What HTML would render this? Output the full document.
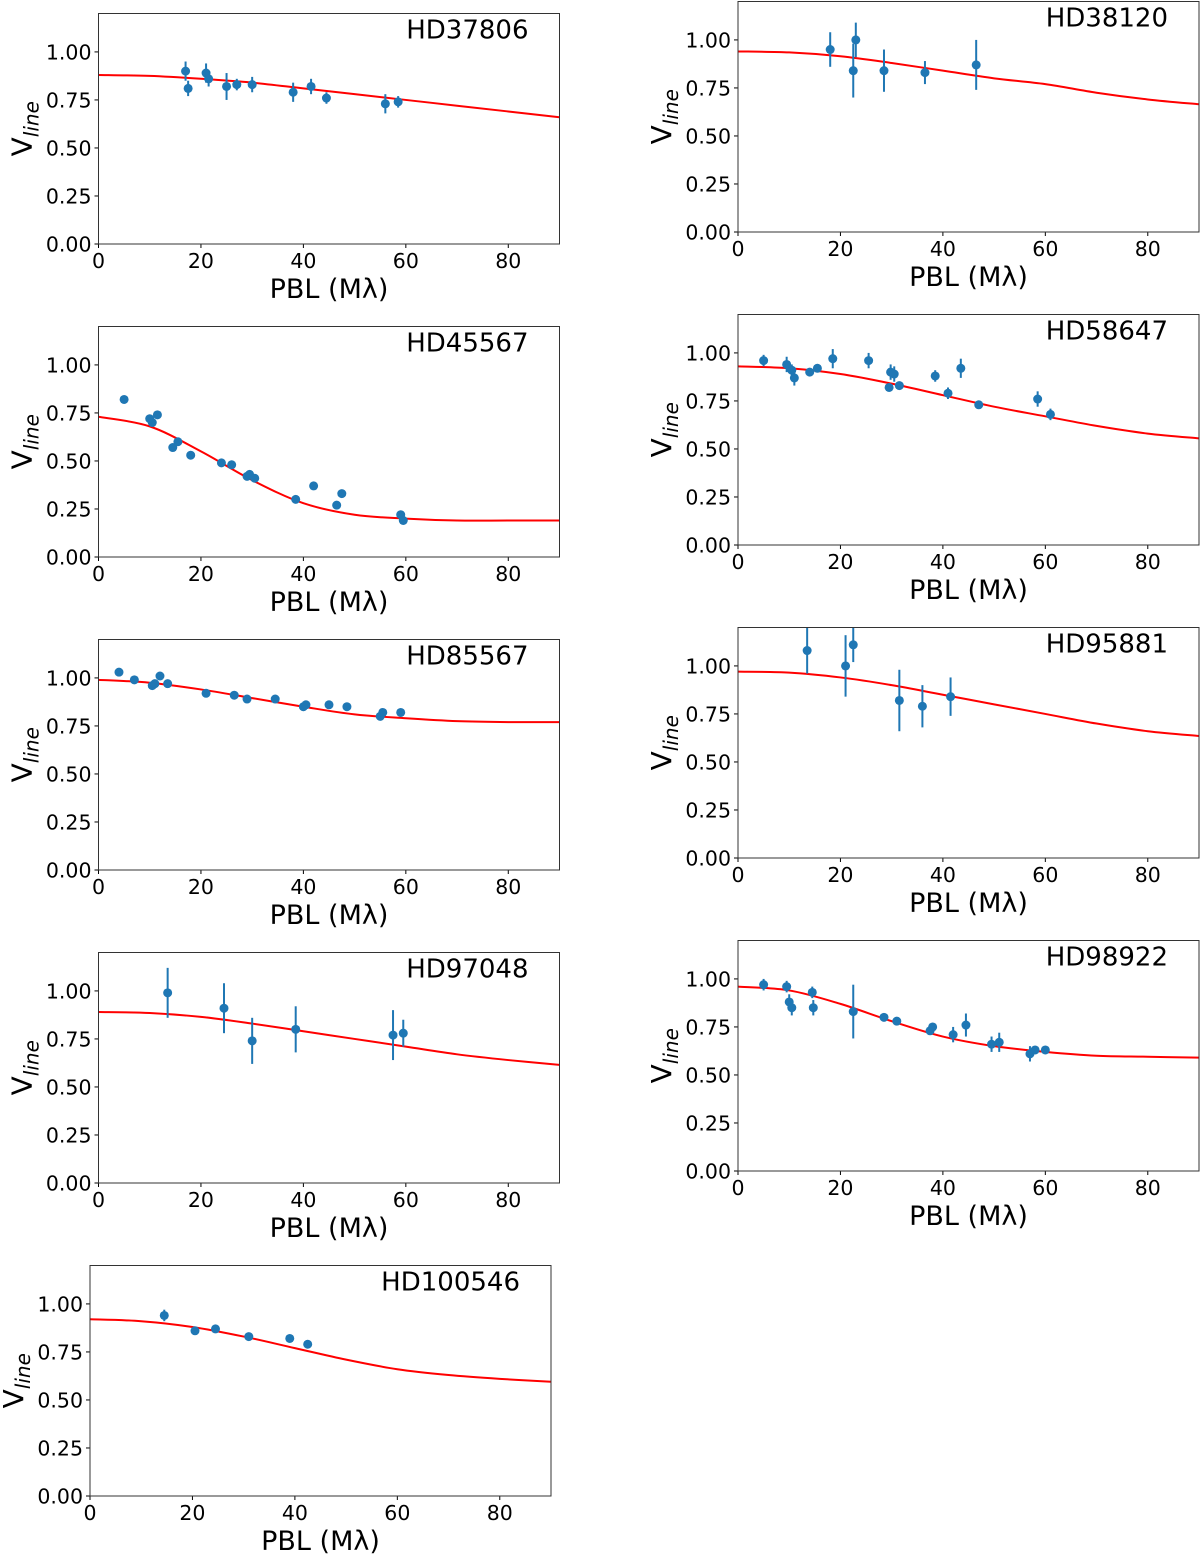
<!DOCTYPE html>
<html><head><meta charset="utf-8"><style>
html,body{margin:0;padding:0;background:#fff;}
svg{display:block;font-family:"DejaVu Sans","Liberation Sans",sans-serif;}
</style></head><body>
<svg id="fig" width="1200" height="1556" viewBox="0 0 1200 1556" xmlns="http://www.w3.org/2000/svg"></svg>
<script>
// Panel data
const names = ["HD37806","HD38120","HD45567","HD58647","HD85567","HD95881","HD97048","HD98922","HD100546"];
const curveX = [0,10,20,30,40,50,60,70,80,90];
const curveHD37806 = [0.88,0.875,0.86,0.84,0.81,0.78,0.75,0.72,0.69,0.66];
const curveHD38120 = [0.94,0.935,0.915,0.88,0.84,0.80,0.77,0.725,0.69,0.665];
const curveHD45567 = [0.73,0.68,0.55,0.40,0.28,0.22,0.20,0.19,0.19,0.19];
const curveHD58647 = [0.93,0.92,0.89,0.84,0.78,0.72,0.67,0.62,0.58,0.555];
const curveHD85567 = [0.99,0.975,0.94,0.895,0.85,0.81,0.79,0.775,0.77,0.77];
const curveHD95881 = [0.97,0.965,0.94,0.90,0.85,0.80,0.75,0.70,0.66,0.635];
const curveHD97048 = [0.89,0.885,0.865,0.83,0.79,0.75,0.71,0.67,0.64,0.615];
const curveHD98922 = [0.96,0.94,0.87,0.78,0.70,0.65,0.62,0.60,0.595,0.59];
const curveHD100546 = [0.92,0.91,0.88,0.83,0.77,0.71,0.66,0.63,0.61,0.595];

const ptsX_HD37806 = [17,17.5,21,21.5,25,27,30,38,41.5,44.5,56,58.5];
const ptsY_HD37806 = [0.90,0.81,0.89,0.86,0.82,0.83,0.83,0.79,0.82,0.76,0.73,0.74];
const ptsE_HD37806 = [0.05,0.04,0.05,0.04,0.07,0.03,0.04,0.05,0.04,0.03,0.05,0.03];
const ptsX_HD38120 = [18,22.5,23,28.5,36.5,46.5];
const ptsY_HD38120 = [0.95,0.84,1.00,0.84,0.83,0.87];
const ptsE_HD38120 = [0.09,0.14,0.09,0.11,0.06,0.13];
const ptsX_HD45567 = [5,10,10.5,11.5,14.5,15.5,18,24,26,29,29.5,30.5,38.5,42,46.5,47.5,59,59.5];
const ptsY_HD45567 = [0.82,0.72,0.70,0.74,0.57,0.60,0.53,0.49,0.48,0.42,0.43,0.41,0.30,0.37,0.27,0.33,0.22,0.19];
const ptsE_HD45567 = [0.01,0.01,0.01,0.01,0.01,0.01,0.01,0.01,0.01,0.01,0.01,0.01,0.01,0.01,0.01,0.01,0.01,0.01];
const ptsX_HD58647 = [5,9.5,10.5,11,14,15.5,18.5,25.5,29.5,29.8,30.5,31.5,38.5,41,43.5,47,58.5,61];
const ptsY_HD58647 = [0.96,0.94,0.91,0.87,0.90,0.92,0.97,0.96,0.82,0.90,0.89,0.83,0.88,0.79,0.92,0.73,0.76,0.68];
const ptsE_HD58647 = [0.03,0.04,0.03,0.04,0.02,0.02,0.05,0.04,0.02,0.04,0.04,0.02,0.03,0.03,0.05,0.02,0.04,0.03];
const ptsX_HD85567 = [4,7,10.5,11,12,13.5,21,26.5,29,34.5,40,40.5,45,48.5,55,55.5,59];
const ptsY_HD85567 = [1.03,0.99,0.96,0.97,1.01,0.97,0.92,0.91,0.89,0.89,0.85,0.86,0.86,0.85,0.80,0.82,0.82];
const ptsE_HD85567 = [0.01,0.01,0.01,0.01,0.01,0.01,0.01,0.01,0.01,0.01,0.01,0.01,0.01,0.01,0.01,0.01,0.01];
const ptsX_HD95881 = [13.5,21,22.5,31.5,36,41.5];
const ptsY_HD95881 = [1.08,1.00,1.11,0.82,0.79,0.84];
const ptsE_HD95881 = [0.12,0.16,0.09,0.16,0.11,0.10];
const ptsX_HD97048 = [13.5,24.5,30,38.5,57.5,59.5];
const ptsY_HD97048 = [0.99,0.91,0.74,0.80,0.77,0.78];
const ptsE_HD97048 = [0.13,0.13,0.12,0.12,0.13,0.07];
const ptsX_HD98922 = [5,9.5,10,10.5,14.5,14.7,22.5,28.5,31,37.5,38,42,44.5,49.5,51,57,58,60];
const ptsY_HD98922 = [0.97,0.96,0.88,0.85,0.93,0.85,0.83,0.80,0.78,0.73,0.75,0.71,0.76,0.66,0.67,0.61,0.63,0.63];
const ptsE_HD98922 = [0.03,0.03,0.04,0.04,0.03,0.04,0.14,0.01,0.01,0.02,0.02,0.04,0.06,0.04,0.05,0.04,0.02,0.01];
const ptsX_HD100546 = [14.5,20.5,24.5,31,39,42.5];
const ptsY_HD100546 = [0.94,0.86,0.87,0.83,0.82,0.79];
const ptsE_HD100546 = [0.03,0.02,0.01,0.02,0.01,0.01];

const xTicks = [0,20,40,60,80];
const yTicks = [0,0.25,0.5,0.75,1.0];
const yTickLabels = ["0.00","0.25","0.50","0.75","1.00"];

const curves = [curveHD37806,curveHD38120,curveHD45567,curveHD58647,curveHD85567,curveHD95881,curveHD97048,curveHD98922,curveHD100546];
const PX = [ptsX_HD37806,ptsX_HD38120,ptsX_HD45567,ptsX_HD58647,ptsX_HD85567,ptsX_HD95881,ptsX_HD97048,ptsX_HD98922,ptsX_HD100546];
const PY = [ptsY_HD37806,ptsY_HD38120,ptsY_HD45567,ptsY_HD58647,ptsY_HD85567,ptsY_HD95881,ptsY_HD97048,ptsY_HD98922,ptsY_HD100546];
const PE = [ptsE_HD37806,ptsE_HD38120,ptsE_HD45567,ptsE_HD58647,ptsE_HD85567,ptsE_HD95881,ptsE_HD97048,ptsE_HD98922,ptsE_HD100546];

const NS = "http://www.w3.org/2000/svg";
const svg = document.getElementById('fig');
function mk(tag, attrs, parent){
  const e = document.createElementNS(NS, tag);
  for (const k in attrs) e.setAttribute(k, attrs[k]);
  parent.appendChild(e);
  return e;
}
const W = 461, H = 230.5, XMAX = 90, YMAX = 1.2;
function geom(i){
  if (i === 8) return {x:90, b:1496};
  const col = i % 2, row = Math.floor(i/2);
  return col === 0 ? {x:98.5, b:244+313*row} : {x:738, b:232+313*row};
}
function smoothPath(pts){
  let d = "M"+pts[0][0]+","+pts[0][1];
  for (let i=0;i<pts.length-1;i++){
    const p0=pts[Math.max(0,i-1)], p1=pts[i], p2=pts[i+1], p3=pts[Math.min(pts.length-1,i+2)];
    const c1x=p1[0]+(p2[0]-p0[0])/6, c1y=p1[1]+(p2[1]-p0[1])/6;
    const c2x=p2[0]-(p3[0]-p1[0])/6, c2y=p2[1]-(p3[1]-p1[1])/6;
    d += " C"+c1x+","+c1y+" "+c2x+","+c2y+" "+p2[0]+","+p2[1];
  }
  return d;
}
for (let i=0;i<names.length;i++){
  const g0 = geom(i);
  const L = g0.x, B = g0.b, T = B - H;
  const sx = v => L + v/XMAX*W;
  const sy = v => B - v/YMAX*H;
  const g = mk('g', {}, svg);
  
  
  for (let k=0;k<xTicks.length;k++){
    const x = sx(xTicks[k]);
    const tl = mk('line',{x1:x,x2:x,y1:B,y2:B+4,stroke:'#000','stroke-width':1},g);
    
    
    const t = mk('text',{x:x,y:B+24,'font-size':20.5,'text-anchor':'middle',fill:'#000'},g);
    t.textContent = xTicks[k];
    
    
  }
  for (let k=0;k<yTicks.length;k++){
    const y = sy(yTicks[k]);
    const tl = mk('line',{x1:L-4,x2:L,y1:y,y2:y,stroke:'#000','stroke-width':1},g);
    
    
    const t = mk('text',{x:L-7,y:y+7.5,'font-size':20.5,'text-anchor':'end',fill:'#000'},g);
    t.textContent = yTickLabels[k];
    
    
  }
  const cid = 'clip'+i;
  const cp = mk('clipPath',{id:cid},g);
  mk('rect',{x:L,y:T,width:W,height:H},cp);
  const cpts = curveX.map((xv,k)=>[sx(xv), sy(curves[i][k])]);
  const path = mk('path',{d:smoothPath(cpts),fill:'none',stroke:'#ff0000','stroke-width':2,'clip-path':'url(#'+cid+')'},g);
  
  
  const pg = mk('g',{'clip-path':'url(#'+cid+')'},g);
  
  
  for (let k=0;k<PX[i].length;k++){
    const x=sx(PX[i][k]), y=sy(PY[i][k]);
    const eb = mk('line',{x1:x,x2:x,y1:sy(PY[i][k]+PE[i][k]),y2:sy(PY[i][k]-PE[i][k]),stroke:'#1f77b4','stroke-width':2},pg);
    
    
    const c = mk('circle',{cx:x,cy:y,r:4.5,fill:'#1f77b4'},pg);
    
    
  }
  const fr = mk('rect',{x:L,y:T,width:W,height:H,fill:'none',stroke:'#333','stroke-width':1},g);
  
  
  const tt = mk('text',{x:L+W-31,y:T+25,'font-size':26,'text-anchor':'end',fill:'#000'},g);
  tt.textContent = names[i];
  
  
  const xl = mk('text',{x:L+W/2,y:B+54,'font-size':27,'text-anchor':'middle',fill:'#000'},g);
  xl.textContent = 'PBL (Mλ)';
  
  
  const yl = mk('text',{x:0,y:0,'font-size':28,'text-anchor':'middle',fill:'#000',transform:'translate('+(L-67)+','+(B-H/2)+') rotate(-90)'},g);
  
  
  const v = mk('tspan',{},yl); v.textContent='V';
  const sub = mk('tspan',{'font-size':20,'font-style':'italic',dy:7},yl); sub.textContent='line';
}
</script>
</body></html>
